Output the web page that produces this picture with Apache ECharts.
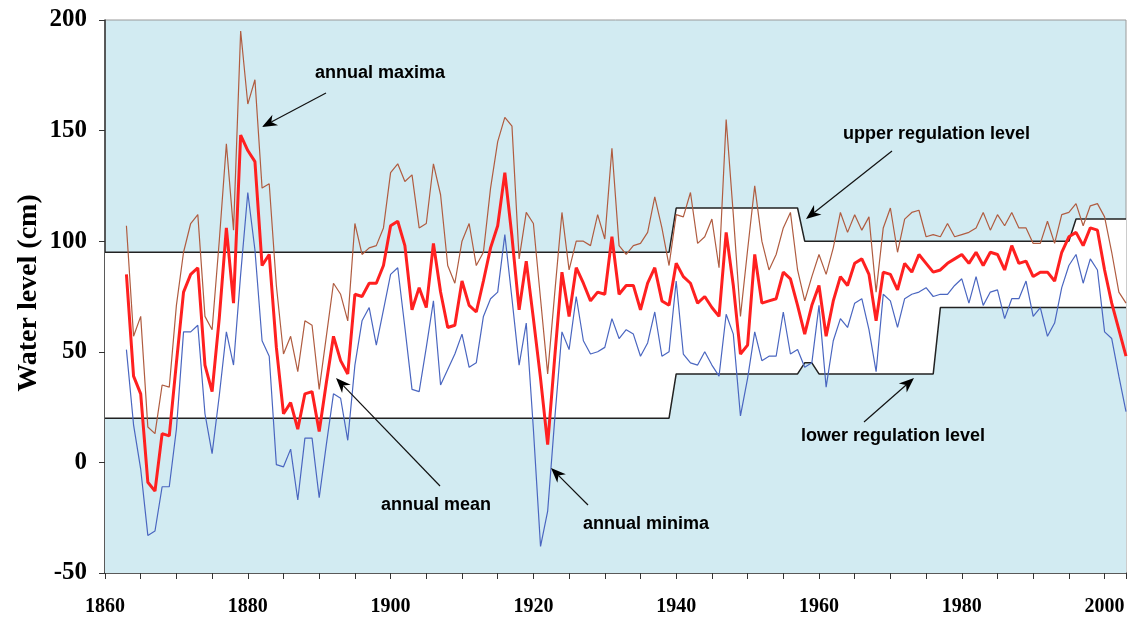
<!DOCTYPE html>
<html>
<head>
<meta charset="utf-8">
<script src="https://cdn.jsdelivr.net/npm/echarts@6/dist/echarts.min.js"></script>
<style>
  html, body { margin: 0; padding: 0; background: #ffffff; }
  #chart { width: 1135px; height: 628px; }
</style>
</head>
<body>
<div id="chart"></div>
<script>
// Annual water levels (cm), one value per year starting at firstYear
const firstYear = 1863;

const annualMaxima = [
  107, 57, 66, 16, 13, 35, 34, 71, 95, 108,
  112, 66, 60, 100, 144, 105, 195, 162, 173, 124,
  126, 80, 49, 57, 41, 64, 62, 33, 57, 81,
  76, 64, 108, 94, 97, 98, 106, 131, 135, 127,
  130, 106, 108, 135, 121, 89, 81, 100, 108, 89,
  95, 124, 145, 156, 152, 92, 113, 108, 74, 40,
  77, 113, 87, 100, 100, 98, 112, 101, 142, 98,
  94, 98, 99, 104, 120, 106, 89, 112, 111, 122,
  99, 102, 110, 88, 155, 112, 66, 96, 125, 100,
  87, 94, 106, 113, 87, 73, 84, 94, 85, 97,
  113, 104, 112, 105, 111, 77, 106, 115, 95, 110,
  113, 114, 102, 103, 102, 108, 102, 103, 104, 106,
  113, 105, 112, 107, 113, 106, 106, 99, 99, 109,
  99, 112, 113, 117, 107, 116, 117, 111, 95, 77,
  72
];

const annualMean = [
  85, 39, 31, -9, -13, 13, 12, 45, 77, 85,
  88, 44, 32, 65, 106, 72, 148, 141, 136, 89,
  94, 52, 22, 27, 15, 31, 32, 14, 36, 57,
  46, 40, 76, 75, 81, 81, 89, 107, 109, 98,
  69, 79, 70, 99, 77, 61, 62, 82, 71, 68,
  82, 97, 107, 131, 102, 69, 91, 65, 38, 8,
  48, 86, 66, 88, 81, 73, 77, 76, 102, 76,
  80, 80, 69, 81, 88, 73, 71, 90, 84, 81,
  72, 75, 70, 66, 104, 80, 49, 53, 94, 72,
  73, 74, 86, 83, 71, 58, 71, 80, 57, 73,
  84, 80, 90, 92, 85, 64, 86, 85, 78, 90,
  86, 94, 90, 86, 87, 90, 92, 94, 90, 95,
  89, 95, 94, 87, 98, 90, 91, 84, 86, 86,
  82, 95, 102, 104, 98, 106, 105, 87, 72, 60,
  48
];

const annualMinima = [
  51, 17, -3, -33, -31, -11, -11, 15, 59, 59,
  62, 22, 4, 30, 59, 44, 85, 122, 96, 55,
  48, -1, -2, 6, -17, 11, 11, -16, 8, 31,
  29, 10, 44, 64, 70, 53, 69, 85, 88, 61,
  33, 32, 52, 73, 35, 42, 49, 58, 43, 45,
  66, 74, 77, 103, 74, 44, 63, 15, -38, -22,
  20, 59, 51, 75, 55, 49, 50, 52, 65, 56,
  60, 58, 48, 54, 68, 48, 50, 82, 49, 45,
  44, 50, 44, 39, 67, 58, 21, 38, 59, 46,
  48, 48, 68, 49, 51, 43, 45, 71, 34, 55,
  65, 61, 72, 74, 60, 41, 76, 73, 61, 74,
  76, 77, 79, 75, 76, 76, 80, 83, 72, 84,
  71, 77, 78, 65, 74, 74, 82, 66, 70, 57,
  63, 79, 89, 94, 81, 92, 87, 59, 56, 39,
  23
];

// Regulation levels as [year, level] break points
const upperRegulation = [
  [1860, 95], [1939, 95], [1940, 115], [1957, 115],
  [1958, 100], [1995, 100], [1996, 110], [2003, 110]
];
const lowerRegulation = [
  [1860, 20], [1939, 20], [1940, 40], [1957, 40], [1958, 45],
  [1959, 45], [1960, 40], [1976, 40], [1977, 70], [2003, 70]
];

// Axis ranges and tick labels
const xRange = [1860, 2003];
const xLabelYears = [1860, 1880, 1900, 1920, 1940, 1960, 1980, 2000];
const yRange = [-50, 200];

const axisTitle = 'Water level (cm)';

const toPairs = (vals) => vals.map((v, i) => [firstYear + i, v]);

const plotBg = '#d2ebf2';
const serif = '"Liberation Serif", "DejaVu Serif", serif';
const sans = '"Liberation Sans", Arial, sans-serif';

const chart = echarts.init(document.getElementById('chart'), null, { renderer: 'canvas' });

const plainLine = (name, data, color, width, z) => ({
  name, type: 'line', data, z,
  symbol: 'none', smooth: false, animation: false,
  lineStyle: { color, width },
  emphasis: { disabled: true }
});

chart.setOption({
  animation: false,
  backgroundColor: '#ffffff',
  grid: {
    left: 105, right: 9, top: 20, bottom: 55,
    show: true, backgroundColor: plotBg, borderColor: '#9a9a9a', borderWidth: 1
  },
  xAxis: {
    type: 'value', min: xRange[0], max: xRange[1], interval: 5,
    axisLine: { show: true, onZero: false, lineStyle: { color: '#333', width: 1.5 } },
    axisTick: { show: true, inside: false, length: 6, lineStyle: { color: '#333', width: 1 } },
    splitLine: { show: false },
    axisLabel: {
      margin: 24,
      fontFamily: serif, fontWeight: 'bold', fontSize: 20, color: '#000',
      formatter: (v) => (xLabelYears.indexOf(v) >= 0 ? String(v) : '')
    }
  },
  yAxis: {
    type: 'value', min: yRange[0], max: yRange[1], interval: 50,
    axisLine: { show: true, onZero: false, lineStyle: { color: '#333', width: 1.5 } },
    axisTick: { show: true, inside: false, length: 6, lineStyle: { color: '#333', width: 1 } },
    splitLine: { show: false },
    axisLabel: {
      margin: 18,
      fontFamily: serif, fontWeight: 'bold', fontSize: 25, color: '#000'
    }
  },
  series: [
    Object.assign(plainLine('upper regulation level', upperRegulation, '#222', 1.5, 3), {
      areaStyle: { color: '#ffffff', opacity: 1, origin: 'start' }
    }),
    Object.assign(plainLine('lower regulation level', lowerRegulation, '#222', 1.5, 4), {
      areaStyle: { color: plotBg, opacity: 1, origin: 'start' }
    }),
    plainLine('annual maxima', toPairs(annualMaxima), '#b05c40', 1.2, 5),
    plainLine('annual minima', toPairs(annualMinima), '#4a66c0', 1.2, 6),
    plainLine('annual mean', toPairs(annualMean), '#ff2020', 3, 7)
  ]
});

// Annotation labels with arrows (pixel positions on the canvas)
const notes = [
  { text: 'annual maxima', x: 315, y: 73, from: [326, 93], to: [262, 127] },
  { text: 'upper regulation level', x: 843, y: 134, from: [892, 151], to: [806, 219] },
  { text: 'lower regulation level', x: 801, y: 436, from: [864, 422], to: [914, 378] },
  { text: 'annual mean', x: 381, y: 505, from: [440, 486], to: [336, 378] },
  { text: 'annual minima', x: 583, y: 524, from: [588, 505], to: [551, 468] }
];

function arrowShapes(from, to) {
  const dx = to[0] - from[0], dy = to[1] - from[1];
  const len = Math.sqrt(dx * dx + dy * dy);
  const ux = dx / len, uy = dy / len;
  const nx = -uy, ny = ux;
  const headLen = 15, halfW = 6, notch = 4.5;
  const bx = to[0] - ux * headLen, by = to[1] - uy * headLen;
  return [
    {
      type: 'line', z: 100,
      shape: { x1: from[0], y1: from[1], x2: bx + ux * notch, y2: by + uy * notch },
      style: { stroke: '#111', lineWidth: 1.2 }
    },
    {
      type: 'polygon', z: 101,
      shape: { points: [
        [to[0], to[1]],
        [bx + nx * halfW, by + ny * halfW],
        [bx + ux * notch, by + uy * notch],
        [bx - nx * halfW, by - ny * halfW]
      ] },
      style: { fill: '#000' }
    }
  ];
}

const graphics = [];
notes.forEach((n) => {
  graphics.push({
    type: 'text', z: 102, x: n.x, y: n.y,
    style: {
      text: n.text, fill: '#000',
      font: 'bold 18px ' + sans,
      textAlign: 'left', textVerticalAlign: 'middle'
    }
  });
  arrowShapes(n.from, n.to).forEach((g) => graphics.push(g));
});

graphics.push({
  type: 'text', z: 102, x: 29, y: 293, rotation: Math.PI / 2,
  style: {
    text: axisTitle, fill: '#000',
    font: 'bold 28px ' + serif,
    textAlign: 'center', textVerticalAlign: 'middle'
  }
});

chart.setOption({ graphic: graphics });
</script>
</body>
</html>
